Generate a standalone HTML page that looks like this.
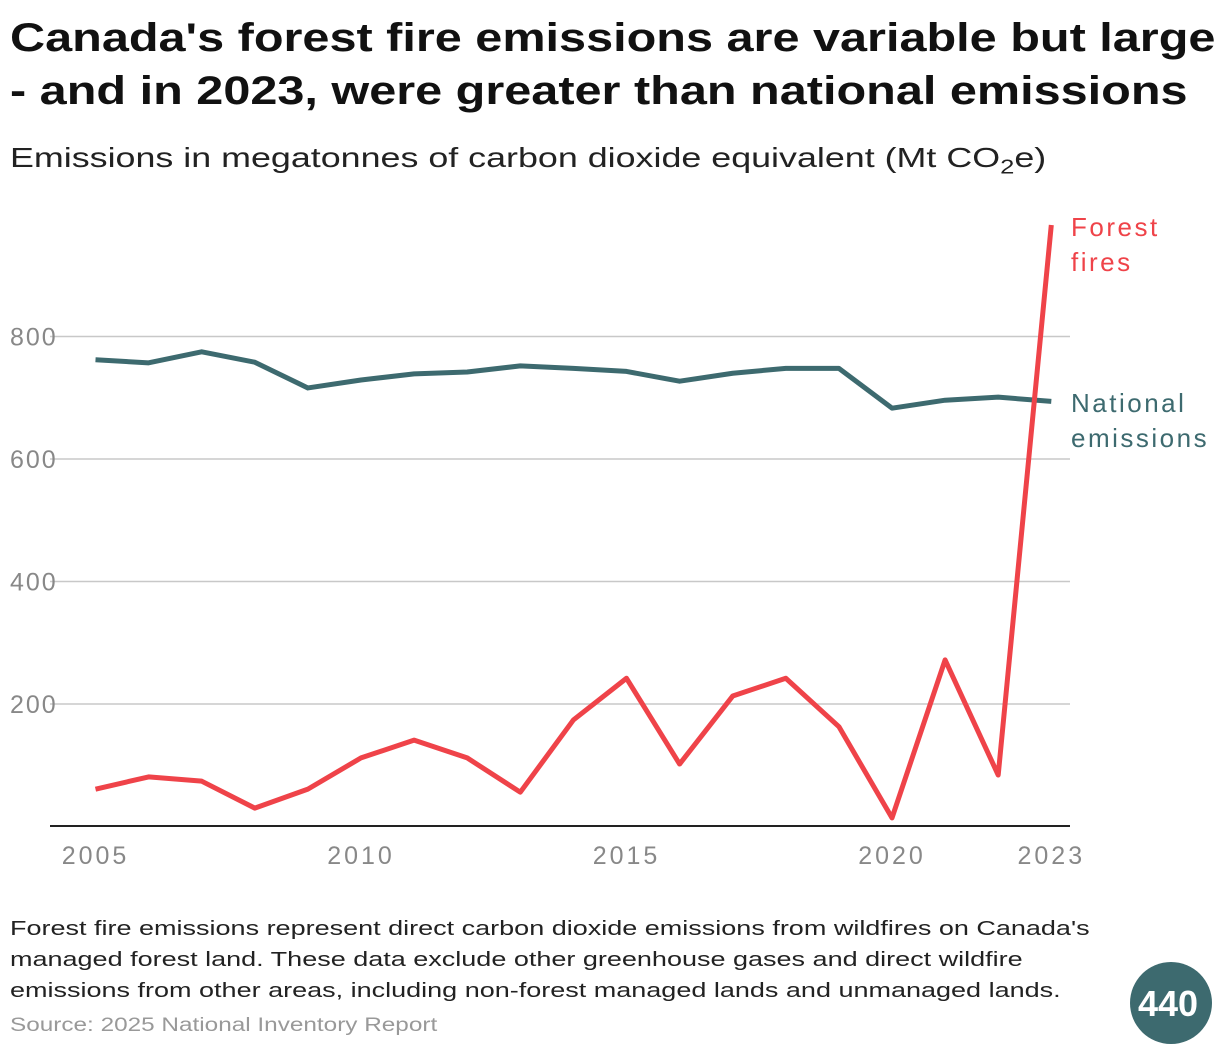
<!DOCTYPE html>
<html><head><meta charset="utf-8"><style>
body{margin:0;width:1220px;height:1054px;background:#fff;font-family:"Liberation Sans",sans-serif;overflow:hidden;position:relative}
.s{transform-origin:0 0;white-space:nowrap}
#title{position:absolute;left:10px;top:12px;font-size:40px;font-weight:bold;line-height:53px;color:#111;transform:scaleX(1.215)}
#sub{position:absolute;left:10px;top:142px;font-size:28px;color:#222;transform:scaleX(1.28)}
#note{position:absolute;left:10px;top:914px;font-size:20px;line-height:31px;color:#222;transform:scaleX(1.35)}
#src{position:absolute;left:10px;top:1015px;font-size:19px;color:#999;transform:scaleX(1.28)}
svg{position:absolute;left:0;top:0}
</style></head><body>
<div id="title" class="s">Canada's forest fire emissions are variable but large<br>- and in 2023, were greater than national emissions</div>
<div id="sub" class="s">Emissions in megatonnes of carbon dioxide equivalent (Mt CO<sub style="font-size:20px">2</sub>e)</div>
<svg id="chart" width="1220" height="1054"></svg>
<div id="note" class="s">Forest fire emissions represent direct carbon dioxide emissions from wildfires on Canada's<br>managed forest land. These data exclude other greenhouse gases and direct wildfire<br>emissions from other areas, including non-forest managed lands and unmanaged lands.</div>
<div id="src" class="s">Source: 2025 National Inventory Report</div>
<svg width="90" height="90" style="left:1126px;top:958px"><circle cx="45" cy="45" r="41" fill="#3d6a6f"/><text x="42" y="58" text-anchor="middle" font-size="36" font-weight="bold" fill="#fff" font-family="Liberation Sans">440</text></svg>
<script>
const years=[2005,2006,2007,2008,2009,2010,2011,2012,2013,2014,2015,2016,2017,2018,2019,2020,2021,2022,2023];
const national=[762,757,775,758,716,729,739,742,752,748,743,727,740,748,748,683,696,701,694];
const fires=[61,81,74,30,61,112,141,112,56,174,242,102,213,242,163,14,272,84,982];
const yTicks=[200,400,600,800];
const xTicks=[2005,2010,2015,2020,2023];
const svg=document.getElementById('chart');
const NS='http://www.w3.org/2000/svg';
const x=v=>95.5+(v-2005)*53.1;
const y=v=>826.5-v*0.6125;
function mk(t,a){const e=document.createElementNS(NS,t);for(const k in a)e.setAttribute(k,a[k]);svg.appendChild(e);return e;}
yTicks.forEach(t=>{
 const g=mk('line',{x1:50,x2:1070,y1:y(t),y2:y(t),stroke:'#c8c8c8','stroke-width':1.5});
 
 
 const l=mk('text',{x:10,y:y(t)+9,'font-size':25,fill:'#888','letter-spacing':2});l.textContent=t;
 
 
});
const ax=mk('line',{x1:50,x2:1070,y1:826,y2:826,stroke:'#222','stroke-width':2});


xTicks.forEach(t=>{
 const l=mk('text',{x:x(t),y:864,'font-size':25,fill:'#888','text-anchor':'middle','letter-spacing':3});l.textContent=t;
 
 
});
function line(vals,col,name){
 const p=mk('polyline',{points:vals.map((v,i)=>x(years[i])+','+y(v)).join(' '),fill:'none',stroke:col,'stroke-width':5,'stroke-linejoin':'round'});
 
 
}
line(national,'#3d6a6f','national-emissions-line');
line(fires,'#ef4349','forest-fires-line');
function lab(lines,yy,col,name){
 const t=mk('text',{x:1071,y:yy,'font-size':26,fill:col,'letter-spacing':2.5});
 
 
 lines.forEach((s,i)=>{const ts=document.createElementNS(NS,'tspan');ts.setAttribute('x',1071);ts.setAttribute('dy',i?35:0);ts.textContent=s;t.appendChild(ts);});
}
lab(['Forest','fires'],236,'#ef4349','forest-fires-label');
lab(['National','emissions'],412,'#3d6a6f','national-emissions-label');
</script>
</body></html>
